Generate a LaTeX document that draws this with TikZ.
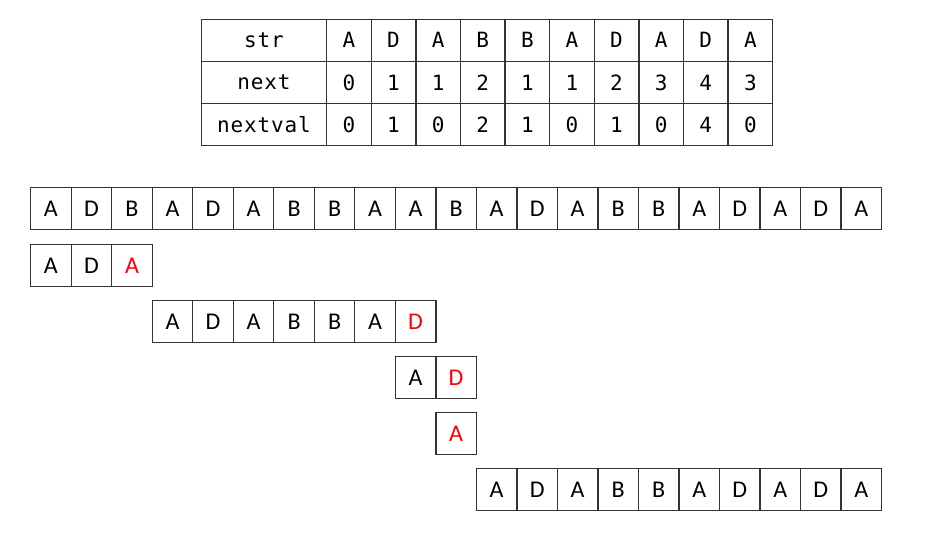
\documentclass[tikz,border=0pt]{standalone}
\usepackage{fontspec}
\setmainfont{Carlito}
\newfontfamily\tabfont[LetterSpace=4]{DejaVu Sans Mono}
\begin{document}
\begin{tikzpicture}[x=1pt,y=-1pt,
  cell/.style={draw=black!80, line width=1.3pt, minimum width=40.52pt, minimum height=41.5pt,
    inner sep=0pt, anchor=north west, font=\fontsize{24}{24}\selectfont},
  tcell/.style={draw=black!80, line width=1.3pt, minimum width=44.6pt, minimum height=42.17pt,
    inner sep=0pt, anchor=north west, font=\tabfont\fontsize{21}{21}\selectfont},
  hcell/.style={tcell, minimum width=125.4pt}]
\useasboundingbox (0,0) rectangle (940,533);
% table
\node (h1) [hcell] at (200.6,18.5) {str};
\node (h2) [hcell] at (200.6,60.67) {next};
\node (h3) [hcell] at (200.6,102.83) {nextval};
\foreach \v [count=\i] in {A,D,A,B,B,A,D,A,D,A}
  \node (s\i) [tcell] at ({326+(\i-1)*44.6},18.5) {\v};
\foreach \v [count=\i] in {0,1,1,2,1,1,2,3,4,3}
  \node (n\i) [tcell] at ({326+(\i-1)*44.6},60.67) {\v};
\foreach \v [count=\i] in {0,1,0,2,1,0,1,0,4,0}
  \node (v\i) [tcell] at ({326+(\i-1)*44.6},102.83) {\v};
% main string
\foreach \v [count=\i] in {A,D,B,A,D,A,B,B,A,A,B,A,D,A,B,B,A,D,A,D,A}
  \node (m\i) [cell] at ({30+(\i-1)*40.52},187) {\v};
% attempts
\foreach \v/\c [count=\i] in {A/black,D/black,A/red}
  \node (a\i) [cell, text=\c] at ({30+(\i-1)*40.52},244) {\v};
\foreach \v/\c [count=\i] in {A/black,D/black,A/black,B/black,B/black,A/black,D/red}
  \node (b\i) [cell, text=\c] at ({30+(\i+2)*40.52},300) {\v};
\foreach \v/\c [count=\i] in {A/black,D/red}
  \node (c\i) [cell, text=\c] at ({30+(\i+8)*40.52},356) {\v};
\node (d1) [cell, text=red] at ({30+10*40.52},412) {A};
\foreach \v [count=\i] in {A,D,A,B,B,A,D,A,D,A}
  \node (e\i) [cell] at ({30+(\i+10)*40.52},468) {\v};
\end{tikzpicture}
\end{document}
